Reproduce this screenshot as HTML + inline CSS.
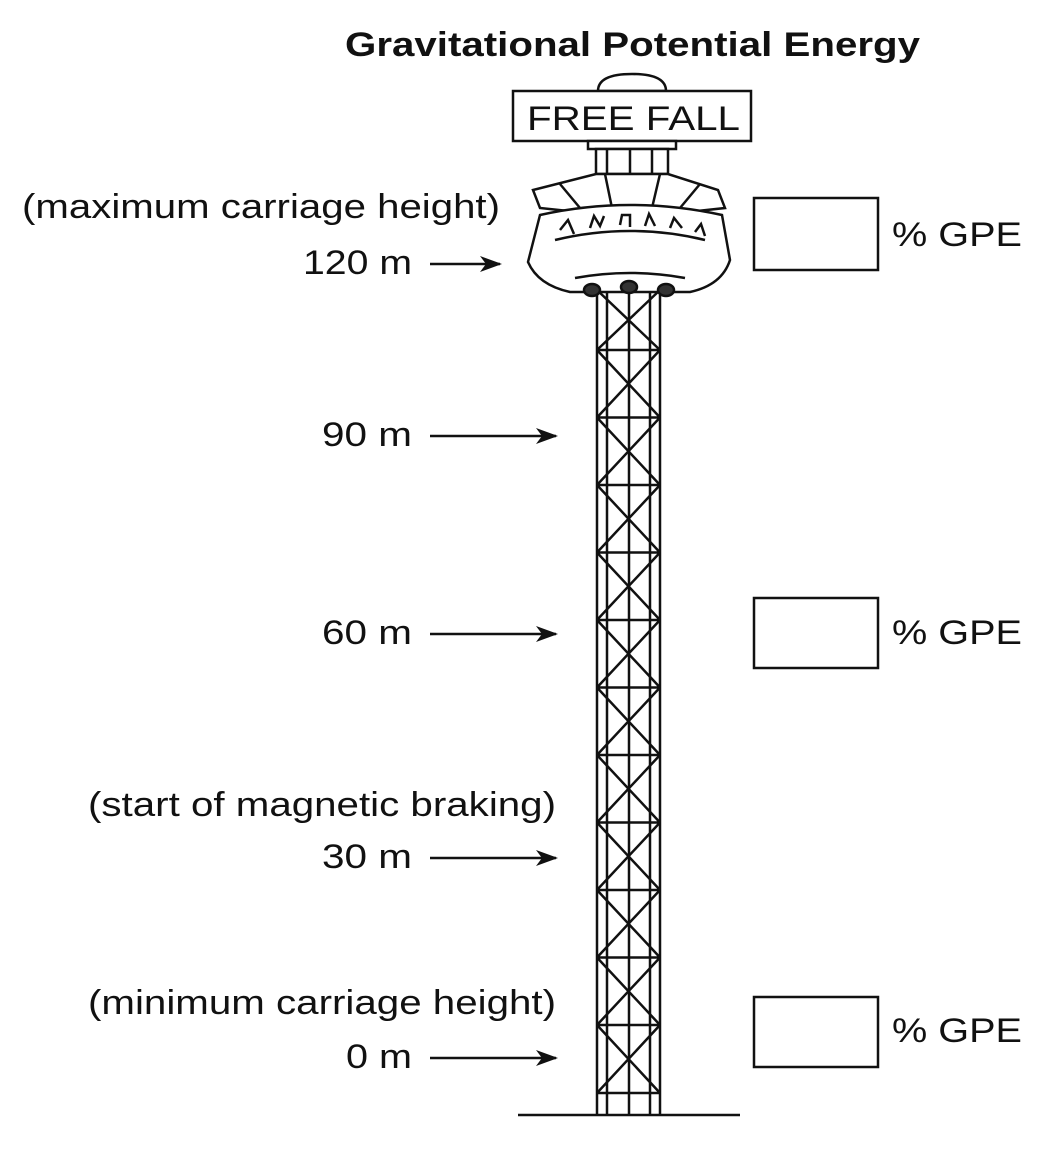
<!DOCTYPE html>
<html><head><style>
html,body{margin:0;padding:0;background:#fff;}
svg{display:block;}
text{font-family:"Liberation Sans",Arial,sans-serif;fill:#111;}
</style></head><body>
<svg width="1064" height="1152" viewBox="0 0 1064 1152" xmlns="http://www.w3.org/2000/svg">
<defs><marker id="ah" markerWidth="22" markerHeight="16" refX="20" refY="8" orient="auto" markerUnits="userSpaceOnUse">
<path d="M0,0 L22,8 L0,16 L6,8 Z" fill="#111"/></marker></defs>
<text x="345" y="56" font-size="34" font-weight="bold" textLength="575" lengthAdjust="spacingAndGlyphs">Gravitational Potential Energy</text>

<g stroke="#111" stroke-width="2.5" fill="none">
<line x1="597" y1="290" x2="597" y2="1115"/>
<line x1="607" y1="290" x2="607" y2="1115"/>
<line x1="629" y1="290" x2="629" y2="1115"/>
<line x1="650" y1="290" x2="650" y2="1115"/>
<line x1="660" y1="290" x2="660" y2="1115"/>
<path d="
M597,290 L660,350 M660,290 L597,350
M597,350 H660 M597,350 L660,417.5 M660,350 L597,417.5
M597,417.5 H660 M597,417.5 L660,485 M660,417.5 L597,485
M597,485 H660 M597,485 L660,552.5 M660,485 L597,552.5
M597,552.5 H660 M597,552.5 L660,620 M660,552.5 L597,620
M597,620 H660 M597,620 L660,687.5 M660,620 L597,687.5
M597,687.5 H660 M597,687.5 L660,755 M660,687.5 L597,755
M597,755 H660 M597,755 L660,822.5 M660,755 L597,822.5
M597,822.5 H660 M597,822.5 L660,890 M660,822.5 L597,890
M597,890 H660 M597,890 L660,957.5 M660,890 L597,957.5
M597,957.5 H660 M597,957.5 L660,1025 M660,957.5 L597,1025
M597,1025 H660 M597,1025 L660,1093 M660,1025 L597,1093
M597,1093 H660"/>
<line x1="518" y1="1115" x2="740" y2="1115"/>
</g>

<g stroke="#111" stroke-width="2.5" fill="#fff">
<path d="M598,91 Q598,74 632,74 Q666,74 666,91 Z"/>
<rect x="513" y="91" width="238" height="50"/>
<rect x="588" y="141" width="88" height="8"/>
<rect x="596" y="149" width="72" height="25"/>
<line x1="607" y1="149" x2="607" y2="174"/><line x1="630" y1="149" x2="630" y2="174"/><line x1="652" y1="149" x2="652" y2="174"/>
<path d="M596,174 L668,174 L718,190 L725,208 L688,212 L578,212 L540,208 L533,190 Z"/>
<path d="M605,174 L612,208 M660,174 L652,208 M560,184 L580,208 M700,184 L680,208"/>
<path d="M540,215 Q630,195 722,215 L730,260 Q722,285 690,292 L570,292 Q538,285 528,262 Z"/>
<path d="M555,240 Q630,222 705,240 M575,278 Q630,268 685,278"/>
<path d="M560,230 l8,-10 l6,14 M590,228 l4,-12 l6,10 l4,-10 M620,225 l2,-10 l8,0 l0,12 M645,226 l4,-12 l6,12 M670,228 l4,-10 l8,10 M695,232 l6,-8 l4,12"/>
<ellipse cx="592" cy="290" rx="8" ry="6" fill="#333"/><ellipse cx="629" cy="287" rx="8" ry="6" fill="#333"/><ellipse cx="666" cy="290" rx="8" ry="6" fill="#333"/>
</g>
<text x="527" y="130" font-size="34" textLength="213" lengthAdjust="spacingAndGlyphs">FREE FALL</text>

<g font-size="34">
<text x="22" y="218" textLength="478" lengthAdjust="spacingAndGlyphs">(maximum carriage height)</text>
<text x="303" y="274" textLength="109" lengthAdjust="spacingAndGlyphs">120 m</text>
<text x="322" y="446" textLength="90" lengthAdjust="spacingAndGlyphs">90 m</text>
<text x="322" y="644" textLength="90" lengthAdjust="spacingAndGlyphs">60 m</text>
<text x="88" y="816" textLength="468" lengthAdjust="spacingAndGlyphs">(start of magnetic braking)</text>
<text x="322" y="868" textLength="90" lengthAdjust="spacingAndGlyphs">30 m</text>
<text x="88" y="1014" textLength="468" lengthAdjust="spacingAndGlyphs">(minimum carriage height)</text>
<text x="346" y="1068" textLength="66" lengthAdjust="spacingAndGlyphs">0 m</text>
<text x="892" y="246" textLength="130" lengthAdjust="spacingAndGlyphs">% GPE</text>
<text x="892" y="644" textLength="130" lengthAdjust="spacingAndGlyphs">% GPE</text>
<text x="892" y="1042" textLength="130" lengthAdjust="spacingAndGlyphs">% GPE</text>
</g>
<g stroke="#111" stroke-width="2.5" marker-end="url(#ah)">
<line x1="430" y1="264" x2="500" y2="264"/>
<line x1="430" y1="436" x2="556" y2="436"/>
<line x1="430" y1="634" x2="556" y2="634"/>
<line x1="430" y1="858" x2="556" y2="858"/>
<line x1="430" y1="1058" x2="556" y2="1058"/>
</g>
<g stroke="#111" stroke-width="2.5" fill="none">
<rect x="754" y="198" width="124" height="72"/>
<rect x="754" y="598" width="124" height="70"/>
<rect x="754" y="997" width="124" height="70"/>
</g>
</svg>
</body></html>
